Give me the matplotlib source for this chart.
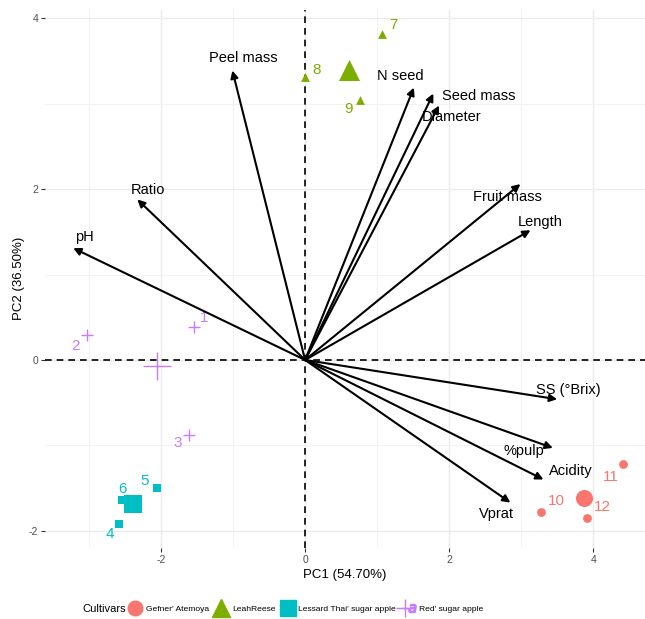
"""
PCA biplot of fruit traits for four sugar apple / atemoya cultivars.
"""

import matplotlib
matplotlib.use("Agg")
import matplotlib.pyplot as plt
import numpy as np
from matplotlib.lines import Line2D
from matplotlib.legend_handler import HandlerTuple

plt.rcParams["font.family"] = ["Liberation Sans", "DejaVu Sans"]
plt.rcParams["axes.unicode_minus"] = False

# ---- data ----------------------------------------------------------------
CULTIVARS = ["Gefner' Atemoya", "LeahReese", "Lessard Thai' sugar apple", "Red' sugar apple"]
COLORS = ["#F8766D", "#7CAE00", "#00BFC4", "#C77CFF"]
MARKERS = ["o", "^", "s", "+"]

SAMPLE_ID = ["1", "2", "3", "4", "5", "6", "7", "8", "9", "10", "11", "12"]
SAMPLE_GROUP = [3, 3, 3, 2, 2, 2, 1, 1, 1, 0, 0, 0]
PC1_SCORE = [-1.54, -3.03, -1.61, -2.58, -2.06, -2.54, 1.07, 0.00, 0.76, 3.28, 4.42, 3.92]
PC2_SCORE = [0.39, 0.29, -0.88, -1.92, -1.50, -1.64, 3.82, 3.32, 3.05, -1.78, -1.22, -1.85]

VARIABLES = ["Peel mass", "Ratio", "pH", "N seed", "Seed mass", "Diameter",
             "Fruit mass", "Length", "SS (°Brix)", "%pulp", "Acidity", "Vprat"]
VAR_PC1 = [-1.01, -2.33, -3.22, 1.51, 1.78, 1.86, 2.99, 3.13, 3.50, 3.44, 3.31, 2.85]
VAR_PC2 = [3.39, 1.88, 1.31, 3.19, 3.12, 2.98, 2.06, 1.52, -0.46, -1.03, -1.40, -1.67]

# label offsets (points) relative to arrow tip / sample point
VAR_OFFSET = {
    "Peel mass": (8, 9), "Ratio": (8, 7), "pH": (8, 8), "N seed": (-10, 8),
    "Seed mass": (33, -2), "Diameter": (9, -8), "Fruit mass": (-9, -9),
    "Length": (7, 6), "SS (°Brix)": (8, 7), "%pulp": (-21, -2),
    "Acidity": (20, 6), "Vprat": (-10, -8),
}
ID_OFFSET = {
    "1": (7, 6), "2": (-8, -8), "3": (-8, -6), "4": (-7, -7), "5": (-9, 5),
    "6": (0, 8), "7": (8, 6), "8": (8, 5), "9": (-8, -7), "10": (11, 8),
    "11": (-9, -9), "12": (11, 8),
}

# ---- figure --------------------------------------------------------------
fig = plt.figure(figsize=(6.45, 6.19), dpi=100)
ax = fig.add_axes([0.07, 0.115, 0.93, 0.869])
ax.set_xlim(-3.61, 4.72)
ax.set_ylim(-2.20, 4.10)

for s in ax.spines.values():
    s.set_visible(False)
ax.set_xticks([-2, 0, 2, 4])
ax.set_yticks([-2, 0, 2, 4])
ax.set_xticks([-3, -1, 1, 3], minor=True)
ax.set_yticks([-1, 1, 3], minor=True)
ax.grid(True, which="major", color="#EBEBEB", lw=1.0)
ax.grid(True, which="minor", color="#F2F2F2", lw=0.7)
ax.tick_params(which="major", length=3, color="#333333", labelsize=7.5,
               labelcolor="#4D4D4D", pad=2)
ax.tick_params(which="minor", length=0)
ax.set_axisbelow(True)

ax.axhline(0, color="black", ls=(0, (4, 3)), lw=1.2, zorder=1)
ax.axvline(0, color="black", ls=(0, (4, 3)), lw=1.2, zorder=1)

ax.set_xlabel("PC1 (54.70%)", fontsize=9.5, labelpad=3)
ax.set_ylabel("PC2 (36.50%)", fontsize=9.5, labelpad=3)

# sample points and group means
pc1 = np.array(PC1_SCORE)
pc2 = np.array(PC2_SCORE)
grp = np.array(SAMPLE_GROUP)
BIG = {"o": 150, "^": 230, "s": 160, "+": 420}
for g, (col, mk) in enumerate(zip(COLORS, MARKERS)):
    m = grp == g
    if mk == "+":
        ax.scatter(pc1[m], pc2[m], marker=mk, s=70, c=col, lw=1.0, zorder=3)
        ax.scatter(pc1[m].mean(), pc2[m].mean(), marker=mk, s=BIG[mk], c=col, lw=1.0, zorder=3)
    else:
        ax.scatter(pc1[m], pc2[m], marker=mk, s=40, c=col, lw=0, zorder=3)
        ax.scatter(pc1[m].mean(), pc2[m].mean(), marker=mk, s=BIG[mk], c=col, lw=0, zorder=3)

for sid, g, x, y in zip(SAMPLE_ID, SAMPLE_GROUP, PC1_SCORE, PC2_SCORE):
    ax.annotate(sid, (x, y), xytext=ID_OFFSET[sid], textcoords="offset points",
                ha="center", va="center", color=COLORS[g], fontsize=11, zorder=4)

# variable loadings
for name, x, y in zip(VARIABLES, VAR_PC1, VAR_PC2):
    ax.annotate("", xy=(x, y), xytext=(0, 0),
                arrowprops=dict(arrowstyle="-|>", color="black", lw=1.5,
                                mutation_scale=11, shrinkA=0, shrinkB=0),
                zorder=5)
    ax.annotate(name, (x, y), xytext=VAR_OFFSET[name], textcoords="offset points",
                ha="center", va="center", color="black", fontsize=10.5, zorder=6)

# legend: title on the same row as the keys
handles = [
    Line2D([], [], marker="o", ls="", color=COLORS[0], ms=10.5),
    Line2D([], [], marker="^", ls="", color=COLORS[1], ms=13),
    Line2D([], [], marker="s", ls="", color=COLORS[2], ms=11),
    (Line2D([], [], marker="+", ls="-", color=COLORS[3], ms=13, lw=1.0),
     Line2D([], [], marker="$a$", ls="", color=COLORS[3], ms=6)),
]
legend_y = 1 - 609 / 619
fig.text(82 / 645, legend_y, "Cultivars", fontsize=8, ha="left", va="center")
fig.legend(handles, CULTIVARS, loc="center left", bbox_to_anchor=(129 / 645, legend_y),
           ncol=4, frameon=False, fontsize=6.1,
           handler_map={tuple: HandlerTuple(ndivide=None)}, handlelength=1.5,
           columnspacing=0.7, handletextpad=0.5, borderpad=0, borderaxespad=0)

fig.savefig("out.png", dpi=100)
